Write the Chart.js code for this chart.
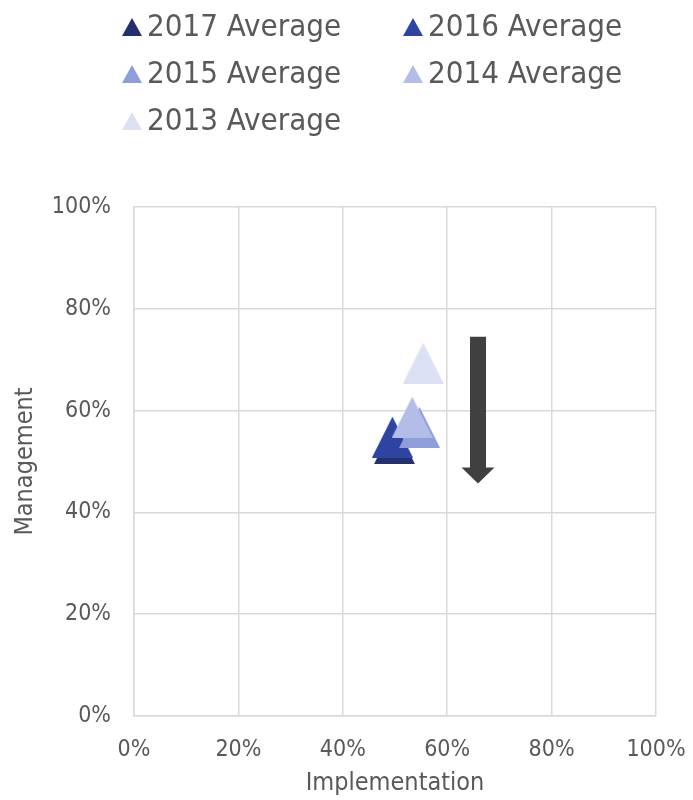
<!DOCTYPE html>
<html>
<head>
<meta charset="utf-8">
<script src="https://cdn.jsdelivr.net/npm/chart.js@4/dist/chart.umd.min.js"></script>
<style>
  body { margin: 0; background: #fff; overflow: hidden; }
  #wrap { position: relative; width: 693px; height: 800px; }
  #quadChart { display: block; }
  #legend {
    position: absolute; left: 122px; top: 2px;
    display: grid; grid-template-columns: 281px 260px;
    font-family: "DejaVu Sans Condensed", "DejaVu Sans", sans-serif;
    font-size: 31px; line-height: 47px; color: #595959;
  }
  .item { display: flex; align-items: center; white-space: nowrap; }
  .tri {
    width: 0; height: 0; margin-right: 5px; margin-top: 2px;
    border-left: 10.5px solid transparent; border-right: 10.5px solid transparent;
    border-bottom: 18px solid;
  }
</style>
</head>
<body>
<div id="wrap">
  <canvas id="quadChart" width="693" height="800"></canvas>
  <div id="legend"></div>
</div>
<script>
const seriesNames = ["2017 Average", "2016 Average", "2015 Average", "2014 Average", "2013 Average"];
const seriesColors = ["#22306e", "#2e44a0", "#8f9edb", "#b4bde7", "#dce0f3"];
const implementation = [49.9, 49.5, 54.7, 53.3, 55.4];
const management = [53.5, 54.8, 56.7, 58.7, 69.3];
const axisTicks = [0, 20, 40, 60, 80, 100];

// downward trend arrow, in axis units
const arrowX = 65.9;
const arrowFrom = 74.5;
const arrowTo = 45.7;

const fontFamily = '"DejaVu Sans Condensed", "DejaVu Sans", sans-serif';

// Chart.js triangles are equilateral around the centre; these markers are boxed
const makeMarker = (color) => {
  const c = document.createElement("canvas");
  c.width = 41;
  c.height = 41;
  const g = c.getContext("2d");
  g.fillStyle = color;
  g.beginPath();
  g.moveTo(20.5, 0);
  g.lineTo(41, 41);
  g.lineTo(0, 41);
  g.closePath();
  g.fill();
  return c;
};

const arrowPlugin = {
  id: "trendArrow",
  afterDatasetsDraw(chart) {
    const { ctx, scales } = chart;
    const x = scales.x.getPixelForValue(arrowX);
    const y1 = scales.y.getPixelForValue(arrowFrom);
    const y2 = scales.y.getPixelForValue(arrowTo);
    const shaft = 8, head = 16.5, headLen = 16;
    ctx.save();
    ctx.fillStyle = "#404040";
    ctx.beginPath();
    ctx.moveTo(x - shaft, y1);
    ctx.lineTo(x + shaft, y1);
    ctx.lineTo(x + shaft, y2 - headLen);
    ctx.lineTo(x + head, y2 - headLen);
    ctx.lineTo(x, y2);
    ctx.lineTo(x - head, y2 - headLen);
    ctx.lineTo(x - shaft, y2 - headLen);
    ctx.closePath();
    ctx.fill();
    ctx.restore();
  },
};

// later years are drawn last so they sit on top
const datasets = seriesNames.map((name, i) => ({
  label: name,
  data: [{ x: implementation[i], y: management[i] }],
  pointStyle: makeMarker(seriesColors[i]),
  backgroundColor: seriesColors[i],
  borderColor: seriesColors[i],
  order: seriesNames.length - i,
}));

document.getElementById("legend").innerHTML = seriesNames
  .map(
    (name, i) =>
      `<div class="item"><span class="tri" style="border-bottom-color:${seriesColors[i]}"></span>${name}</div>`
  )
  .join("");

const axisTitle = (text) => ({
  display: true,
  text: text,
  color: "#595959",
  font: { family: fontFamily, size: 25 },
  padding: { top: 0, bottom: 2 },
});

const ctx = document.getElementById("quadChart").getContext("2d");

new Chart(ctx, {
  type: "scatter",
  data: { datasets: datasets },
  plugins: [arrowPlugin],
  options: {
    responsive: false,
    animation: false,
    layout: { padding: { top: 207, right: 37, bottom: 0, left: 10 } },
    plugins: {
      legend: { display: false },
      tooltip: { enabled: false },
    },
    scales: {
      x: {
        min: 0,
        max: 100,
        afterBuildTicks: (axis) => {
          axis.ticks = axisTicks.map((v) => ({ value: v }));
        },
        afterFit: (axis) => {
          axis.height = 84;
          // end labels may hang past the plot; the layout padding covers them
          axis.paddingLeft = 0;
          axis.paddingRight = 0;
        },
        grid: { color: "#d9d9d9", lineWidth: 1.5, drawTicks: false },
        border: { color: "#d9d9d9", width: 1.5 },
        ticks: {
          color: "#595959",
          padding: 20,
          font: { family: fontFamily, size: 23 },
          callback: (v) => v + "%",
        },
        title: axisTitle("Implementation"),
      },
      y: {
        min: 0,
        max: 100,
        afterBuildTicks: (axis) => {
          axis.ticks = axisTicks.map((v) => ({ value: v }));
        },
        afterFit: (axis) => {
          axis.width = 124;
          axis.paddingTop = 0;
          axis.paddingBottom = 0;
        },
        grid: { color: "#d9d9d9", lineWidth: 1.5, drawTicks: false },
        border: { color: "#d9d9d9", width: 1.5 },
        ticks: {
          color: "#595959",
          padding: 23,
          font: { family: fontFamily, size: 23 },
          callback: (v) => v + "%",
        },
        title: axisTitle("Management"),
      },
    },
  },
});
</script>
</body>
</html>
